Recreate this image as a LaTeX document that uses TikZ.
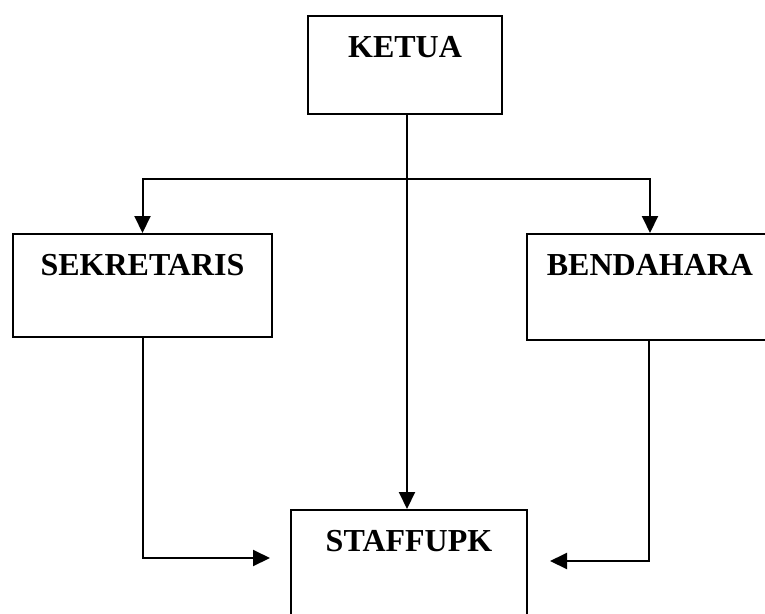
\documentclass[tikz,border=0pt]{standalone}
\usepackage{fontspec}
\setmainfont{Liberation Serif}
\usetikzlibrary{arrows.meta}
\begin{document}
\begin{tikzpicture}[x=1pt,y=-1pt,
  boxnode/.style={draw,line width=2pt,rectangle,inner sep=0pt,anchor=north,
    font=\fontsize{32}{36}\selectfont\bfseries,text height=41pt},
  arr/.style={line width=2pt,-{Triangle[length=17pt,width=16pt]}},
  ln/.style={line width=2pt}]
\useasboundingbox (0,0) rectangle (765,613);
\clip (0,0) rectangle (765,613);
\node[boxnode,minimum width=194pt,text depth=57pt] (ketua) at (405,15) {KETUA};
\node[boxnode,minimum width=259pt,text depth=62pt] (sek) at (142.5,233) {SEKRETARIS};
\node[boxnode,minimum width=246pt,text depth=65pt] (bend) at (650,233) {BENDAHARA};
\node[boxnode,minimum width=236pt,text depth=80pt] (staff) at (409,509) {STAFFUPK};
\coordinate (kb) at ([xshift=2pt]ketua.south);
\coordinate (br) at (kb |- 0,179);
\coordinate (lt) at ([xshift=-20pt]staff.west |- 0,558);
\coordinate (rt) at ([xshift=22pt]staff.east |- 0,561);
\draw[arr] (kb) -- (kb |- staff.north);
\draw[arr] (br) -| (sek.north);
\draw[arr] (br) -| (bend.north);
\draw[arr] (sek.south) |- (lt);
\draw[arr] ([xshift=-1pt]bend.south) |- (rt);
\end{tikzpicture}
\end{document}
